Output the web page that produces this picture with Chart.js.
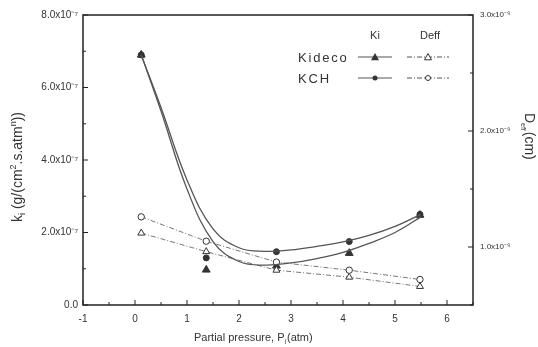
<!DOCTYPE html>
<html>
<head>
<meta charset="utf-8">
<script src="https://cdn.jsdelivr.net/npm/chart.js@4"></script>
<style>
  html, body { margin: 0; padding: 0; background: #fff; }
  #wrap { width: 538px; height: 347px; position: relative; }
</style>
</head>
<body>
<div id="wrap"><canvas id="chart"></canvas></div>
<script>
// measured points (partial pressure, atm)
const pressure = [0.12, 1.37, 2.72, 4.12, 5.48];
// Ki in units of 1e-7 g/(cm2.s.atm^n)
const kiKCH = [6.9, 1.30, 1.47, 1.75, 2.50];
const kiKideco = [6.9, 0.97, 1.08, 1.43, 2.48];
// Deff in units of 1e-9 cm
const deffKCH = [1.26, 1.05, 0.87, 0.80, 0.72];
const deffKideco = [1.12, 0.96, 0.80, 0.74, 0.66];

// fitted Ki curves
const fitX = [0.12, 0.5, 1.0, 1.5, 2.0, 2.5, 3.0, 3.5, 4.0, 4.5, 5.0, 5.5];
const fitKCH = [6.9, 5.45, 3.45, 2.1, 1.58, 1.48, 1.52, 1.62, 1.74, 1.92, 2.17, 2.5];
const fitKideco = [6.9, 5.35, 3.2, 1.75, 1.2, 1.1, 1.16, 1.28, 1.45, 1.7, 2.0, 2.43];

// axis tick labels
const xLabels = ['-1', '0', '1', '2', '3', '4', '5', '6'];
const kiLabels = ['0.0', '2.0x10⁻⁷', '4.0x10⁻⁷', '6.0x10⁻⁷', '8.0x10⁻⁷'];
const deffLabels = ['1.0x10⁻⁹', '2.0x10⁻⁹', '3.0x10⁻⁹'];

const pts = (xs, ys) => xs.map((x, i) => ({ x, y: ys[i] }));

const LINE = '#555';
const MARK = '#333';
const FAM = 'Liberation Sans, Arial, sans-serif';
const TICKFONT = { family: FAM, size: 10 };
const DASH = [5, 2, 1, 2];

/* ── frame, inward ticks, axis titles, legend ── */
const decor = {
  id: 'decor',
  afterDraw(chart) {
    const { ctx, chartArea: a, scales } = chart;
    ctx.save();
    ctx.strokeStyle = '#222';
    ctx.lineWidth = 1.5;
    ctx.strokeRect(a.left, a.top, a.right - a.left, a.bottom - a.top);

    ctx.lineWidth = 1;
    scales.x.ticks.forEach(t => {
      const p = scales.x.getPixelForValue(t.value);
      const len = Number.isInteger(t.value) ? 5 : 3;
      ctx.beginPath(); ctx.moveTo(p, a.bottom); ctx.lineTo(p, a.bottom - len); ctx.stroke();
    });
    scales.y.ticks.forEach(t => {
      const p = scales.y.getPixelForValue(t.value);
      const len = t.value % 2 === 0 ? 5 : 3;
      ctx.beginPath(); ctx.moveTo(a.left, p); ctx.lineTo(a.left + len, p); ctx.stroke();
    });
    scales.y2.ticks.forEach(t => {
      const p = scales.y2.getPixelForValue(t.value);
      const len = Number.isInteger(t.value) ? 5 : 3;
      ctx.beginPath(); ctx.moveTo(a.right, p); ctx.lineTo(a.right - len, p); ctx.stroke();
    });

    ctx.fillStyle = '#333';
    ctx.textBaseline = 'alphabetic';

    // x title
    let x = 194, y = 341;
    ctx.font = '11px ' + FAM;
    ctx.textAlign = 'left';
    const s1 = 'Partial pressure, P';
    ctx.fillText(s1, x, y);
    x += ctx.measureText(s1).width;
    ctx.font = '7px ' + FAM;
    ctx.fillText('i', x, y + 3);
    x += ctx.measureText('i').width + 1;
    ctx.font = '11px ' + FAM;
    ctx.fillText('(atm)', x, y);

    // left title (rotated)
    ctx.save();
    ctx.translate(22, 222);
    ctx.rotate(-Math.PI / 2);
    const parts = [['k', 14, 0], ['i', 9, 3], [' (g/(cm', 14, 0], ['2', 9, -6], ['.s.atm', 14, 0], ['n', 9, -6], ['))', 14, 0]];
    let px = 0;
    parts.forEach(([txt, sz, dy]) => {
      ctx.font = sz + 'px ' + FAM;
      ctx.fillText(txt, px, dy);
      px += ctx.measureText(txt).width;
    });
    ctx.restore();

    // right title (rotated clockwise)
    ctx.save();
    ctx.translate(525, 113);
    ctx.rotate(Math.PI / 2);
    const rparts = [['D', 14, 0], ['eff', 7, 4], ['(cm)', 14, 0]];
    px = 0;
    rparts.forEach(([txt, sz, dy]) => {
      ctx.font = sz + 'px ' + FAM;
      ctx.fillText(txt, px, dy);
      px += ctx.measureText(txt).width + (sz < 10 ? 1 : 0);
    });
    ctx.restore();

    // legend
    ctx.font = '11px ' + FAM;
    ctx.textAlign = 'center';
    ctx.fillText('Ki', 375, 39);
    ctx.fillText('Deff', 430, 39);
    ctx.font = '13px ' + FAM;
    ctx.textAlign = 'left';
    ctx.letterSpacing = '1.8px';
    ctx.fillText('Kideco', 298, 62);
    ctx.fillText('KCH', 298, 83);
    ctx.letterSpacing = '0px';

    const rows = [[57, 'triangle'], [78, 'circle']];
    rows.forEach(([ry, shape]) => {
      ctx.strokeStyle = LINE;
      ctx.lineWidth = 1.2;
      ctx.setLineDash([]);
      ctx.beginPath(); ctx.moveTo(358, ry); ctx.lineTo(392, ry); ctx.stroke();
      ctx.setLineDash(DASH);
      ctx.beginPath(); ctx.moveTo(407, ry); ctx.lineTo(449, ry); ctx.stroke();
      ctx.setLineDash([]);
      ctx.fillStyle = MARK;
      ctx.strokeStyle = MARK;
      ctx.lineWidth = 1;
      if (shape === 'triangle') {
        tri(ctx, 375, ry, 4, true);
        ctx.fillStyle = '#fff';
        tri(ctx, 428, ry, 3.5, false);
      } else {
        ctx.beginPath(); ctx.arc(375, ry, 2.5, 0, Math.PI * 2); ctx.fill();
        ctx.fillStyle = '#fff';
        ctx.beginPath(); ctx.arc(428, ry, 2.5, 0, Math.PI * 2); ctx.fill(); ctx.stroke();
      }
      ctx.fillStyle = '#333';
    });
    ctx.restore();
  }
};

function tri(ctx, cx, cy, r, filled) {
  ctx.beginPath();
  ctx.moveTo(cx, cy - r);
  ctx.lineTo(cx + r, cy + r * 0.8);
  ctx.lineTo(cx - r, cy + r * 0.8);
  ctx.closePath();
  ctx.fill();
  if (!filled) ctx.stroke();
}

new Chart(document.getElementById('chart'), {
  type: 'scatter',
  data: {
    datasets: [
      {
        data: pts(fitX, fitKCH), yAxisID: 'y', showLine: true,
        borderColor: LINE, borderWidth: 1.3, tension: 0.4, pointRadius: 0,
      },
      {
        data: pts(fitX, fitKideco), yAxisID: 'y', showLine: true,
        borderColor: LINE, borderWidth: 1.3, tension: 0.4, pointRadius: 0,
      },
      {
        data: pts(pressure, deffKCH), yAxisID: 'y2', showLine: true,
        borderColor: '#777', borderWidth: 1, borderDash: DASH, tension: 0,
        pointStyle: 'circle', pointRadius: 3.2, pointBackgroundColor: '#fff',
        pointBorderColor: MARK, pointBorderWidth: 1,
      },
      {
        data: pts(pressure, deffKideco), yAxisID: 'y2', showLine: true,
        borderColor: '#777', borderWidth: 1, borderDash: DASH, tension: 0,
        pointStyle: 'triangle', pointRadius: 4, pointBackgroundColor: '#fff',
        pointBorderColor: MARK, pointBorderWidth: 1,
      },
      {
        data: pts(pressure, kiKCH), yAxisID: 'y',
        pointStyle: 'circle', pointRadius: 3, pointBackgroundColor: MARK,
        pointBorderColor: MARK,
      },
      {
        data: pts(pressure, kiKideco), yAxisID: 'y',
        pointStyle: 'triangle', pointRadius: 4.5, pointBackgroundColor: MARK,
        pointBorderColor: MARK,
      },
    ],
  },
  options: {
    responsive: true,
    maintainAspectRatio: false,
    animation: false,
    layout: { padding: { top: 15, left: 0, right: 0, bottom: 0 } },
    plugins: { legend: { display: false }, tooltip: { enabled: false } },
    scales: {
      x: {
        type: 'linear', min: -1, max: 6.5,
        grid: { display: false, drawTicks: false }, border: { display: false },
        ticks: {
          stepSize: 0.5, padding: 8, color: '#333', font: TICKFONT, autoSkip: false,
          maxRotation: 0,
          callback: v => Number.isInteger(v) ? xLabels[v + 1] : '',
        },
        afterFit: s => { s.height = 42; },
      },
      y: {
        position: 'left', min: 0, max: 8,
        grid: { display: false, drawTicks: false }, border: { display: false },
        ticks: {
          stepSize: 1, padding: 5, color: '#333', font: TICKFONT, autoSkip: false,
          callback: v => v % 2 === 0 ? kiLabels[v / 2] : '',
        },
        afterFit: s => { s.width = 83; },
      },
      y2: {
        position: 'right', min: 0.5, max: 3,
        grid: { display: false, drawTicks: false }, border: { display: false },
        ticks: {
          stepSize: 0.5, padding: 7, color: '#333', font: { family: FAM, size: 8 },
          autoSkip: false,
          callback: v => Number.isInteger(v) ? deffLabels[v - 1] : '',
        },
        afterFit: s => { s.width = 65; },
      },
    },
  },
  plugins: [decor],
});
</script>
</body>
</html>
